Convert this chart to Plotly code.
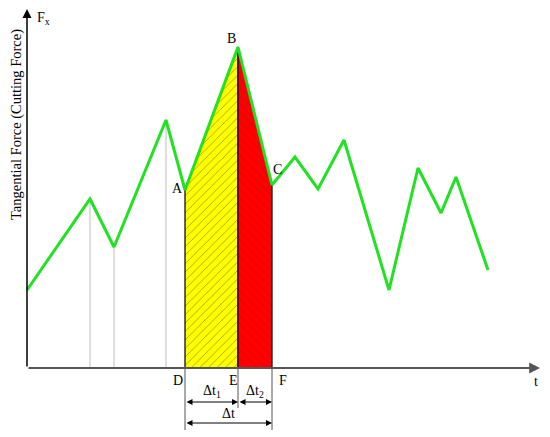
import plotly.graph_objects as go

# force curve (t in arbitrary time units, F in arbitrary force units)
t = [0, 63, 87, 139, 158, 211, 245, 268, 291, 317, 362, 391, 414, 429, 461]
F = [78, 169, 121, 248, 178, 321, 183, 211, 179, 228, 78, 200, 155, 191, 98]

# indices of the marked points
iA, iB, iC = 4, 5, 6
peak_idx = [1, 2, 3]  # thin gray drop lines

serif = "Liberation Serif, Times New Roman, serif"
green = "#22e022"

fig = go.Figure()

# gray drop lines
for i in peak_idx:
    fig.add_trace(go.Scatter(x=[t[i], t[i]], y=[0, F[i]], mode="lines",
                             line=dict(color="#c8c8c8", width=1.2),
                             hoverinfo="skip", showlegend=False))

# yellow hatched area D-A-B-E
fig.add_trace(go.Scatter(
    x=[t[iA], t[iA], t[iB], t[iB], t[iA]],
    y=[0, F[iA], F[iB], 0, 0],
    fill="toself", mode="lines",
    line=dict(color="black", width=1.2),
    fillcolor="#ffff00",
    fillpattern=dict(shape="/", bgcolor="#ffff00", fgcolor="#4a4a00", size=6, solidity=0.15),
    hoverinfo="skip", showlegend=False))

# red area E-B-C-F
fig.add_trace(go.Scatter(
    x=[t[iB], t[iB], t[iC], t[iC], t[iB]],
    y=[0, F[iB], F[iC], 0, 0],
    fill="toself", mode="lines",
    line=dict(color="black", width=1.2),
    fillcolor="#ff0000",
    fillpattern=dict(shape="\\", bgcolor="#ff0000", fgcolor="#c80000", size=6, solidity=0.15),
    hoverinfo="skip", showlegend=False))

# force curve
fig.add_trace(go.Scatter(x=t, y=F, mode="lines",
                         line=dict(color=green, width=3),
                         hoverinfo="skip", showlegend=False))

# extension lines below the time axis
for xv, yb in [(t[iA], -62), (t[iB], -40), (t[iC], -62)]:
    fig.add_shape(type="line", x0=xv, x1=xv, y0=0, y1=yb,
                  line=dict(color="#555555", width=1))

ann = []
# axes with arrows
ann.append(dict(x=0, y=359, ax=0, ay=0, xref="x", yref="y", axref="x", ayref="y",
                showarrow=True, arrowhead=2, arrowsize=1.2, arrowwidth=1.5,
                arrowcolor="black", text=""))
ann.append(dict(x=513, y=0, ax=0, ay=0, xref="x", yref="y", axref="x", ayref="y",
                showarrow=True, arrowhead=2, arrowsize=1.2, arrowwidth=1.8,
                arrowcolor="#555555", text=""))

# dimension arrows
for x0, x1, yv in [(t[iA], t[iB], -34), (t[iB], t[iC], -34), (t[iA], t[iC], -55)]:
    ann.append(dict(x=x1, y=yv, ax=x0, ay=yv, xref="x", yref="y", axref="x", ayref="y",
                    showarrow=True, arrowhead=2, arrowside="end+start", arrowsize=1.2,
                    arrowwidth=1, arrowcolor="black", text=""))

labels = [
    ("t", 509, -13),
    ("A", t[iA] - 8, F[iA] + 2),
    ("B", t[iB] - 7, F[iB] + 9),
    ("C", t[iC] + 5, F[iC] + 16),
    ("D", t[iA] - 7, -12),
    ("E", t[iB] - 5, -12),
    ("F", t[iC] + 11, -12),
    ("Δt<sub>1</sub>", (t[iA] + t[iB]) / 2, -23),
    ("Δt<sub>2</sub>", (t[iB] + t[iC]) / 2, -23),
    ("Δt", (t[iA] + t[iC]) / 2, -45),
]
for txt, xv, yv in labels:
    ann.append(dict(x=xv, y=yv, xref="x", yref="y", text=txt, showarrow=False,
                    font=dict(family=serif, size=14, color="black")))

ann.append(dict(x=8, y=360, xref="x", yref="y", text="F<sub>x</sub>", showarrow=False,
                xanchor="left", yanchor="top",
                font=dict(family=serif, size=14, color="black")))

ann.append(dict(x=-11, y=243, xref="x", yref="y", text="Tangential Force (Cutting Force)",
                showarrow=False, textangle=-90,
                font=dict(family=serif, size=14.5, color="black")))

# page body has an 8px margin, so the figure is sized to fit the remaining window
fig.update_layout(
    width=542, height=429,
    margin=dict(l=0, r=0, t=0, b=0),
    paper_bgcolor="white", plot_bgcolor="white",
    xaxis=dict(range=[-19, 523], visible=False, fixedrange=True),
    yaxis=dict(range=[-69, 360], visible=False, fixedrange=True),
    annotations=ann,
    showlegend=False,
)

fig.write_html("out.html")
